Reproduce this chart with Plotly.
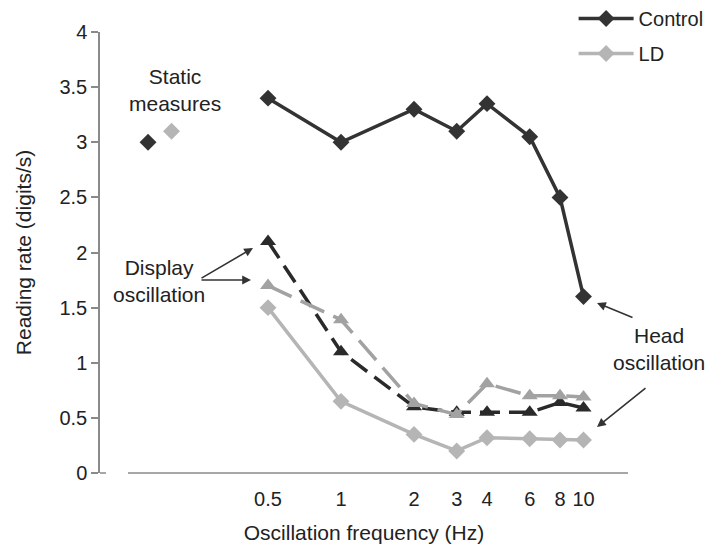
import plotly.graph_objects as go

# ---- data ----
freqs = [0.5, 1, 2, 3, 4, 6, 8, 10]
tick_labels = ["0.5", "1", "2", "3", "4", "6", "8", "10"]

control_head = [3.4, 3.0, 3.3, 3.1, 3.35, 3.05, 2.5, 1.6]
ld_head = [1.5, 0.65, 0.35, 0.2, 0.32, 0.31, 0.3, 0.3]
control_display = [2.1, 1.1, 0.6, 0.55, 0.55, 0.55, 0.64, 0.59]
ld_display = [1.7, 1.39, 0.63, 0.53, 0.81, 0.70, 0.70, 0.69]

static_pos = [0.16, 0.2]        # placement of static measures on the axis
static_values = [3.0, 3.1]      # Control, LD

C_DARK = "#333333"
C_LD = "#b5b5b5"
C_LD_TRI = "#a2a2a2"
C_BLK_TRI = "#2a2a2a"
AX = "#8a8a8a"
FONT = "Liberation Sans, Arial, sans-serif"

fig = go.Figure()

fig.add_trace(go.Scatter(
    x=freqs, y=control_display, mode="lines+markers", showlegend=False,
    line=dict(color=C_BLK_TRI, width=3.5, dash="20px,9px"),
    marker=dict(symbol="triangle-up", size=14, color=C_BLK_TRI)))
fig.add_trace(go.Scatter(
    x=freqs, y=ld_display, mode="lines+markers", showlegend=False,
    line=dict(color=C_LD_TRI, width=3.5, dash="26px,10px"),
    marker=dict(symbol="triangle-up", size=14, color=C_LD_TRI)))
fig.add_trace(go.Scatter(
    x=freqs, y=ld_head, mode="lines+markers", name="LD",
    legendrank=2, legendgroup="b",
    line=dict(color=C_LD, width=3.5),
    marker=dict(symbol="diamond", size=13, color=C_LD)))
fig.add_trace(go.Scatter(
    x=freqs, y=control_head, mode="lines+markers", name="Control",
    legendrank=1, legendgroup="a",
    line=dict(color=C_DARK, width=3.5),
    marker=dict(symbol="diamond", size=13, color=C_DARK)))
fig.add_trace(go.Scatter(
    x=static_pos, y=static_values, mode="markers", showlegend=False,
    marker=dict(symbol="diamond", size=13, color=[C_DARK, C_LD])))

annos = [
    dict(text="Static<br>measures", x=0.142, y=0.868),
    dict(text="Display<br>oscillation", x=0.111, y=0.435),
    dict(text="Head<br>oscillation", x=1.059, y=0.281),
]
annotations = []
for a in annos:
    annotations.append(dict(text=a["text"], x=a["x"], y=a["y"], xref="paper",
                            yref="paper", showarrow=False, xanchor="center",
                            yanchor="middle",
                            font=dict(size=21, color="#222", family=FONT)))

def px2paper(px, py):
    return (px - 100) / 528, (473 - py) / 441

arrows = [((253, 248), (200, 279)), ((251, 280), (200, 280)),
          ((597, 303), (634, 318)), ((597, 427), (647, 387))]
for (hx, hy), (tx, ty) in arrows:
    x, y = px2paper(hx, hy)
    annotations.append(dict(text="", x=x, y=y, xref="paper", yref="paper",
                            ax=tx - hx, ay=ty - hy, showarrow=True,
                            arrowhead=2, arrowsize=1.1, arrowwidth=1.6,
                            arrowcolor="#333"))

fig.update_layout(
    width=709, height=548,
    margin=dict(l=100, r=81, t=32, b=75, autoexpand=False),
    paper_bgcolor="white", plot_bgcolor="white",
    font=dict(family=FONT, size=20, color="#222"),
    annotations=annotations,
    legend=dict(x=0.897, y=1.075, xanchor="left", yanchor="top",
                traceorder="grouped", tracegroupgap=6,
                font=dict(size=20, color="#222"), itemwidth=55,
                bgcolor="rgba(0,0,0,0)"),
    shapes=[
        dict(type="line", xref="paper", yref="paper", x0=28 / 528, x1=1,
             y0=0, y1=0, line=dict(color=AX, width=1.5)),
        dict(type="line", xref="paper", yref="paper", x0=0, x1=6 / 528,
             y0=0, y1=0, line=dict(color=AX, width=1.5)),
    ],
)
fig.update_xaxes(type="log", range=[-0.994, 1.1835], tickvals=freqs,
                 ticktext=tick_labels, showgrid=False, zeroline=False,
                 showline=False, ticks="", ticklabelstandoff=12,
                 title=dict(text="Oscillation frequency (Hz)", standoff=16,
                            font=dict(size=21)),
                 tickfont=dict(size=20))
fig.update_yaxes(range=[0, 4], dtick=0.5, showgrid=False, zeroline=False,
                 showline=True, linecolor=AX, linewidth=1.5, ticks="outside",
                 ticklen=7, tickcolor=AX, tickwidth=1.5,
                 title=dict(text="Reading rate (digits/s)", standoff=22,
                            font=dict(size=21)),
                 tickfont=dict(size=20))

fig.write_html("out.html")
